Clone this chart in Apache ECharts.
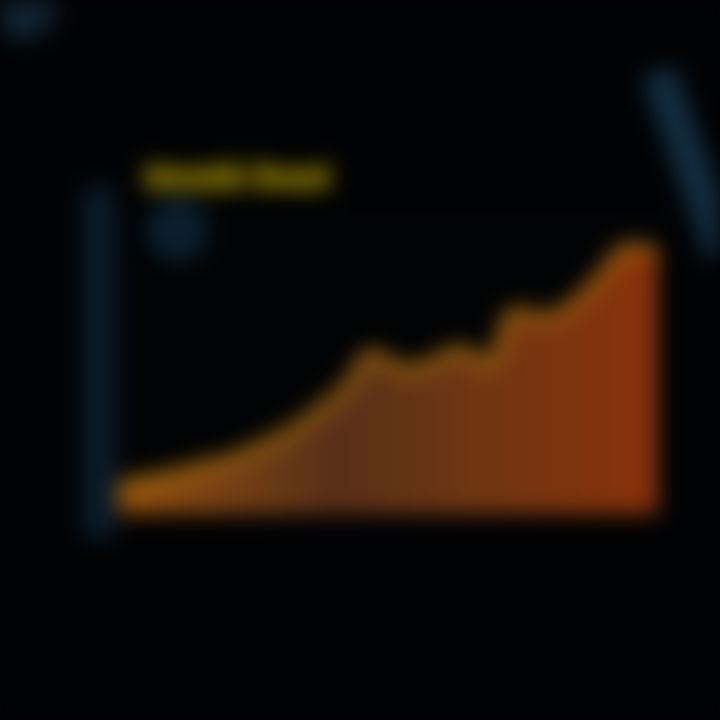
<!DOCTYPE html>
<html><head><meta charset="utf-8">
<script src="https://cdn.jsdelivr.net/npm/echarts@6/dist/echarts.min.js"></script>
<style>
html,body{margin:0;padding:0;background:#010203;}
#c{width:720px;height:720px;filter:blur(11px);}
</style></head>
<body><div id="c"></div>
<script>
const categories = ['1','2','3','4','5','6','7','8','9','10','11','12','13','14','15','16','17','18','19','20'];
const values = [27,34,40,48,55,68,82,102,126,160,145,150,164,150,202,196,210,238,266,262];
const titleText = 'Growth Trend';

const chart = echarts.init(document.getElementById('c'));
chart.setOption({
  backgroundColor: '#010203',
  animation: false,
  title: {
    text: titleText, left: 140, top: 163,
    textStyle: { color: '#7c6c04', fontSize: 24, fontWeight: 'bolder', fontFamily: 'DejaVu Sans',
      textBorderColor: '#7c6c04', textBorderWidth: 7 }
  },
  grid: { left: 118, right: 62, top: 214, bottom: 206 },
  xAxis: {
    type: 'category', data: categories, boundaryGap: false,
    axisLine: { show: false }, axisTick: { show: false }, axisLabel: { show: false },
    splitLine: { show: true, lineStyle: { color: 'rgba(10,14,20,0.6)', width: 3 } }
  },
  yAxis: {
    type: 'value', min: 0, max: 300, interval: 50,
    axisLine: { show: false },
    axisTick: { show: false }, axisLabel: { show: false },
    splitLine: { show: false }
  },
  series: [{
    type: 'line', data: values, smooth: 0.4, symbol: 'none',
    lineStyle: { color: '#b07410', width: 9 },
    areaStyle: {
      opacity: 1,
      color: new echarts.graphic.LinearGradient(0, 0, 1, 0, [
        { offset: 0, color: '#94500e' },
        { offset: 0.4, color: '#583018' },
        { offset: 0.65, color: '#6e3612' },
        { offset: 1, color: '#8a320a' }
      ])
    }
  }],
  graphic: [
    { type: 'rect', shape: { x: 82, y: 185, width: 34, height: 355, r: 12 }, style: { fill: '#0a1b29' } },
    { type: 'circle', shape: { cx: 178, cy: 230, r: 32 }, style: { fill: 'rgba(20,56,82,0.55)' } },
    { type: 'circle', shape: { cx: 22, cy: 4, r: 36 }, style: { fill: 'rgba(28,58,80,0.6)' } },
    { type: 'line', shape: { x1: 658, y1: 72, x2: 724, y2: 255 }, style: { stroke: 'rgba(22,56,80,0.8)', lineWidth: 36 } }
  ]
});
</script></body></html>
